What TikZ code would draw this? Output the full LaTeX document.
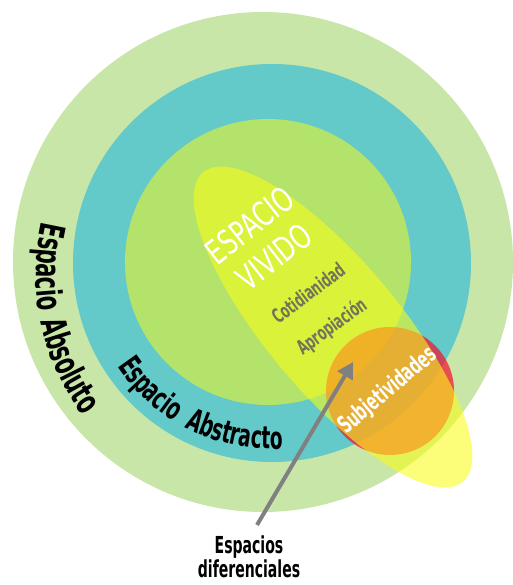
\documentclass[tikz,border=0pt]{standalone}
\usepackage{fontspec}
\newfontfamily\condfont[FakeStretch=0.6]{DejaVu Sans}
\newfontfamily\finefont[FakeStretch=0.7]{DejaVu Sans}
\usetikzlibrary{arrows.meta,decorations.text}
\definecolor{absoluto}{RGB}{200,230,168}
\definecolor{abstracto}{RGB}{99,201,201}
\definecolor{interior}{RGB}{179,227,106}
\definecolor{vivido}{RGB}{249,253,24}
\definecolor{subjetivo}{RGB}{248,13,43}
\definecolor{flecha}{RGB}{128,128,128}
\definecolor{grisolivo}{RGB}{115,115,90}
\begin{document}
\begin{tikzpicture}[x=1pt,y=1pt,
    rotulo/.style={text=#1,inner sep=0pt},
    curvo/.style 2 args={decorate,decoration={text along path,text align=center,
        text={|\condfont\bfseries\fontsize{#1}{#1}\selectfont|#2}}}]
\useasboundingbox (0,0) rectangle (512,585);
% los tres espacios
\fill[absoluto]  (263,323) circle[radius=250pt];
\fill[abstracto] (272,322) circle[radius=199pt];
\fill[interior]  (268,323) circle[radius=143pt];
% subjetividades y espacio vivido
\fill[subjetivo,opacity=.7] (390,194) circle[radius=64pt];
\fill[vivido,opacity=.58,rotate around={-50:(333,258)}] (333,258) ellipse[x radius=202pt,y radius=66pt];
% rotulos curvos
\path[curvo={35}{Espacio{\kern10pt}Absoluto}] (270,310) ++(147:234pt) arc[start angle=147,end angle=237,radius=234pt];
\path[curvo={31}{Espacio{\kern12pt}Abstracto}] (272,322) ++(196:186pt) arc[start angle=196,end angle=291,radius=186pt];
% rotulos
\node[rotulo=white,rotate=38,align=center,font=\finefont\fontsize{34}{40}\selectfont] (vivo) at (262,344) {ESPACIO\\VIVIDO};
\node[rotulo=grisolivo,rotate=37,font=\condfont\bfseries\fontsize{20}{20}\selectfont] (cotid) at (308,292) {Cotidianidad};
\node[rotulo=grisolivo,rotate=36,font=\condfont\bfseries\fontsize{20}{20}\selectfont] (aprop) at (332,258) {Apropiación};
\node[rotulo=white,rotate=40,font=\condfont\bfseries\fontsize{24}{24}\selectfont] (subj) at (388,194) {Subjetividades};
\node[rotulo=black,align=center,font=\condfont\bfseries\fontsize{23.4}{24}\selectfont] (difer) at (249,28) {Espacios\\diferenciales};
% flecha
\coordinate (cola) at (257,60);
\coordinate (punta) at (353,223);
\draw[flecha,line width=4pt,-{Triangle[width=17pt,length=16pt]}] (cola) -- (punta);
\end{tikzpicture}
\end{document}
